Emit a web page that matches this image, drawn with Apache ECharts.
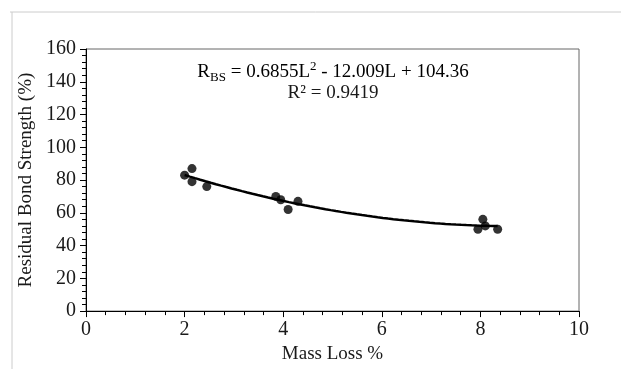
<!DOCTYPE html>
<html>
<head>
<meta charset="utf-8">
<script src="https://cdn.jsdelivr.net/npm/echarts@6/dist/echarts.min.js"></script>
<style>
  html, body { margin: 0; padding: 0; background: #fff; }
  #chart { width: 621px; height: 369px; }
</style>
</head>
<body>
<div id="chart"></div>
<script>
// measured points: mass loss (%) vs residual bond strength (%)
var massLoss = [2.0, 2.15, 2.15, 2.45, 3.85, 3.95, 4.1, 4.3, 7.95, 8.05, 8.1, 8.35];
var bondStrength = [83, 87, 79, 76, 70, 68, 62, 67, 50, 56, 52, 50];
// printed trendline coefficients: a*L^2 + b*L + c
var fitCoef = [0.6855, -12.009, 104.36];
var fitRange = [2.0, 8.35];
var xTicks = [0, 2, 4, 6, 8, 10];
var yTicks = [0, 20, 40, 60, 80, 100, 120, 140, 160];

var font = 'Liberation Serif';
var txt = '#1a1a1a';

function pts() {
  var res = [];
  for (var i = 0; i < massLoss.length; i++) {
    res.push([massLoss[i], bondStrength[i]]);
  }
  return res;
}
function fitLine() {
  var res = [];
  var n = 60;
  for (var i = 0; i <= n; i++) {
    var L = fitRange[0] + (fitRange[1] - fitRange[0]) * i / n;
    res.push([L, fitCoef[0] * L * L + fitCoef[1] * L + fitCoef[2]]);
  }
  return res;
}

var option = {
  animation: false,
  grid: {
    left: 86, right: 42, top: 49, bottom: 57,
    show: true, borderColor: '#666', borderWidth: 1
  },
  xAxis: {
    type: 'value',
    min: xTicks[0], max: xTicks[xTicks.length - 1], interval: 2,
    name: 'Mass Loss %', nameLocation: 'middle', nameGap: 32,
    nameTextStyle: { fontFamily: font, fontSize: 19, color: txt },
    axisLine: { lineStyle: { color: '#000', width: 1 } },
    axisTick: { length: 6, lineStyle: { color: '#000' } },
    minorTick: { show: true, splitNumber: 5, length: 4, lineStyle: { color: '#000' } },
    axisLabel: { fontFamily: font, fontSize: 20, color: txt, margin: 9 },
    splitLine: { show: false }
  },
  yAxis: {
    type: 'value',
    min: yTicks[0], max: yTicks[yTicks.length - 1], interval: 20,
    name: 'Residual Bond Strength (%)', nameLocation: 'middle', nameGap: 50,
    nameTextStyle: { fontFamily: font, fontSize: 19, color: txt },
    axisLine: { show: true, lineStyle: { color: '#000', width: 1 } },
    axisTick: { show: true, length: 6, lineStyle: { color: '#000' } },
    minorTick: { show: true, splitNumber: 5, length: 4, lineStyle: { color: '#000' } },
    axisLabel: { fontFamily: font, fontSize: 20, color: txt, margin: 10 },
    splitLine: { show: false }
  },
  series: [
    {
      type: 'line',
      data: fitLine(),
      showSymbol: false,
      smooth: false,
      lineStyle: { color: '#000', width: 2.5 },
      z: 2
    },
    {
      type: 'scatter',
      data: pts(),
      symbol: 'circle',
      symbolSize: 9,
      itemStyle: { color: '#000' },
      z: 3
    }
  ],
  graphic: [
    { type: 'line', shape: { x1: 10, y1: 12, x2: 621, y2: 12 }, style: { stroke: '#ccc', lineWidth: 1 } },
    { type: 'line', shape: { x1: 12, y1: 12, x2: 12, y2: 369 }, style: { stroke: '#ccc', lineWidth: 1 } },
    {
      type: 'text', x: 333, y: 60, z: 10,
      style: {
        text: '{a|R}{sub|BS}{a| = 0.6855L}{sup|2}{a| - 12.009L + 104.36}',
        align: 'center',
        rich: {
          a: { fontFamily: font, fontSize: 19, color: txt, lineHeight: 24 },
          sub: { fontFamily: font, fontSize: 13, color: txt, verticalAlign: 'bottom', padding: [7, 0, 0, 0], lineHeight: 24 },
          sup: { fontFamily: font, fontSize: 13, color: txt, verticalAlign: 'top', padding: [0, 0, 7, 0], lineHeight: 24 }
        }
      }
    },
    {
      type: 'text', x: 333, y: 84, z: 10,
      style: {
        text: 'R² = 0.9419',
        align: 'center',
        fontFamily: font, fontSize: 19, fill: txt
      }
    }
  ]
};

var myChart = echarts.init(document.getElementById('chart'));
myChart.setOption(option);
</script>
</body>
</html>
